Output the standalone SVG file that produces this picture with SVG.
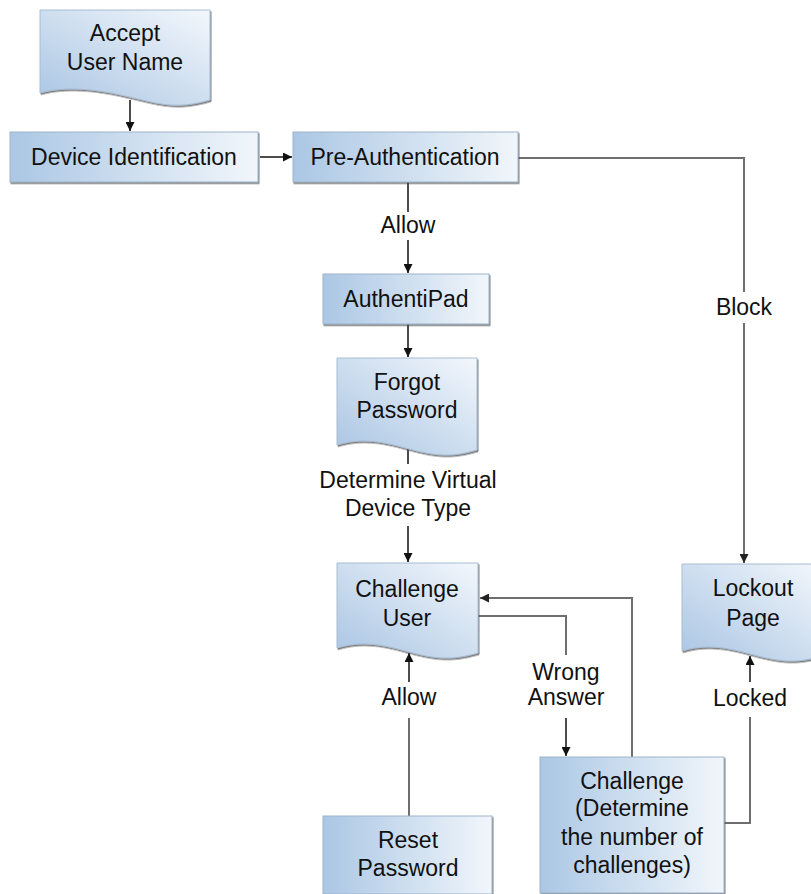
<svg xmlns="http://www.w3.org/2000/svg" width="811" height="894" viewBox="0 0 811 894">
<defs>
<linearGradient id="gBox" x1="0" y1="0" x2="1" y2="0">
<stop offset="0" stop-color="#abc7e4"/>
<stop offset="1" stop-color="#f1f6fb"/>
</linearGradient>
<linearGradient id="gDoc" x1="0" y1="1" x2="1" y2="0">
<stop offset="0" stop-color="#a9c5e3"/>
<stop offset="1" stop-color="#f3f7fc"/>
</linearGradient>
<filter id="sh" x="-5%" y="-5%" width="115%" height="120%">
<feDropShadow dx="1" dy="1.5" stdDeviation="0.6" flood-color="#444" flood-opacity="0.7"/>
</filter>
<marker id="ah" viewBox="0 0 10 10" refX="10" refY="5" markerWidth="9" markerHeight="9" markerUnits="userSpaceOnUse" orient="auto">
<path d="M0,0 L10,5 L0,10 z" fill="#111"/>
</marker>
<marker id="ahg" viewBox="0 0 10 10" refX="10" refY="5" markerWidth="9" markerHeight="9" markerUnits="userSpaceOnUse" orient="auto">
<path d="M0,0 L10,5 L0,10 z" fill="#222"/>
</marker>
</defs>
<style>
text{font-family:"Liberation Sans",Arial,sans-serif;font-size:23px;fill:#111;text-anchor:middle}
.box{fill:url(#gBox);stroke:#9db3ca;stroke-width:1;filter:url(#sh)}
.doc{fill:url(#gDoc);stroke:#a8bcd2;stroke-width:1;filter:url(#sh)}
.k{fill:none;stroke:#111;stroke-width:1.5}
.g{fill:none;stroke:#6e6e6e;stroke-width:2}
</style>
<g id="connectors">
<path class="k" d="M130,100 V131" marker-end="url(#ah)"/>
<path class="k" d="M260,157 H292" marker-end="url(#ah)"/>
<path class="k" d="M408,182 V212"/>
<path class="k" d="M408,240 V273" marker-end="url(#ah)"/>
<path class="g" d="M518,158 H744 V292"/>
<path class="g" d="M744,323 V563" stroke="#222" marker-end="url(#ahg)"/>
<path class="k" d="M408,324 V357" marker-end="url(#ah)"/>
<path class="k" d="M408,446 V464"/>
<path class="k" d="M408,526 V562" marker-end="url(#ah)"/>
<path class="g" d="M478,616 H566 V655"/>
<path class="k" d="M566,718 V756" marker-end="url(#ah)"/>
<path class="g" d="M632,757 V598 H480" marker-end="url(#ahg)"/>
<path class="g" d="M724,823 H750 V717"/>
<path class="k" d="M750,682 V656" marker-end="url(#ah)"/>
<path class="g" d="M409,816 V718"/>
<path class="k" d="M409,682 V653" marker-end="url(#ah)"/>
<text x="408" y="233">Allow</text>
<text x="744" y="315">Block</text>
<text x="408" y="488">Determine Virtual</text>
<text x="408" y="516">Device Type</text>
<text x="566" y="680">Wrong</text>
<text x="566" y="705">Answer</text>
<text x="750" y="706">Locked</text>
<text x="409" y="705">Allow</text>
</g>
<g id="accept-user-name">
<path class="doc" d="M40,10 H210 V100 C175,110 160,104 125,96 C95,89 65,86 40,93 Z"/>
<text x="125" y="41">Accept</text>
<text x="125" y="70">User Name</text>
</g>
<g id="device-identification">
<rect class="box" x="10" y="132" width="248" height="50"/>
<text x="134" y="165">Device Identification</text>
</g>
<g id="pre-authentication">
<rect class="box" x="293" y="132" width="225" height="50"/>
<text x="405" y="165">Pre-Authentication</text>
</g>
<g id="authentipad">
<rect class="box" x="323" y="274" width="166" height="50"/>
<text x="406" y="307">AuthentiPad</text>
</g>
<g id="forgot-password">
<path class="doc" d="M337,358 H477 V450 C450,458 435,456 405,448 C380,441 360,438 337,445 Z"/>
<text x="407" y="390">Forgot</text>
<text x="407" y="418">Password</text>
</g>
<g id="challenge-user">
<path class="doc" d="M337,563 H478 V653 C450,661 435,659 405,651 C380,644 360,641 337,648 Z"/>
<text x="407" y="597">Challenge</text>
<text x="407" y="626">User</text>
</g>
<g id="lockout-page">
<path class="doc" d="M682,564 H822 V656 C795,664 780,662 750,654 C725,647 705,644 682,651 Z"/>
<text x="753" y="596">Lockout</text>
<text x="753" y="626">Page</text>
</g>
<g id="challenge">
<rect class="box" x="540" y="757" width="184" height="136"/>
<text x="632" y="789">Challenge</text>
<text x="632" y="816">(Determine</text>
<text x="632" y="845">the number of</text>
<text x="632" y="873">challenges)</text>
</g>
<g id="reset-password">
<rect class="box" x="323" y="816" width="169" height="78"/>
<text x="408" y="848">Reset</text>
<text x="408" y="876">Password</text>
</g>
</svg>
